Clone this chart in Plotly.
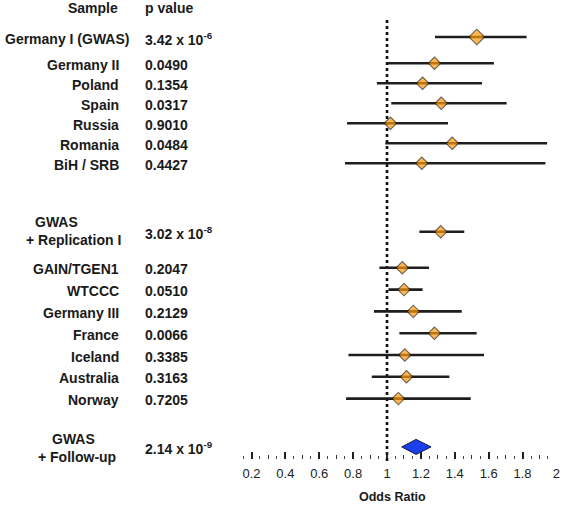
import plotly.graph_objects as go

# ---------------- data ----------------
samples = ["Germany I (GWAS)", "Germany II", "Poland", "Spain", "Russia", "Romania", "BiH / SRB",
           "GWAS|+ Replication I",
           "GAIN/TGEN1", "WTCCC", "Germany III", "France", "Iceland", "Australia", "Norway",
           "GWAS|+ Follow-up"]
p_values = ["3.42 x 10<sup>-6</sup>", "0.0490", "0.1354", "0.0317", "0.9010", "0.0484", "0.4427",
            "3.02 x 10<sup>-8</sup>",
            "0.2047", "0.0510", "0.2129", "0.0066", "0.3385", "0.3163", "0.7205",
            "2.14 x 10<sup>-9</sup>"]
odds_ratio = [1.53, 1.28, 1.21, 1.32, 1.02, 1.385, 1.205,
              1.317,
              1.09, 1.10, 1.155, 1.28, 1.105, 1.115, 1.067,
              1.171]
ci_low = [1.283, 1.00, 0.94, 1.025, 0.764, 0.99, 0.752,
          1.191,
          0.955, 1.008, 0.923, 1.073, 0.772, 0.91, 0.758,
          1.087]
ci_high = [1.824, 1.631, 1.561, 1.706, 1.36, 1.945, 1.935,
           1.456,
           1.248, 1.21, 1.441, 1.529, 1.573, 1.368, 1.494,
           1.26]
group = ["A"] * 7 + ["S1"] + ["B"] * 7 + ["S2"]
major_ticks = [0.2, 0.4, 0.6, 0.8, 1.0, 1.2, 1.4, 1.6, 1.8, 2.0]
major_labels = ["0.2", "0.4", "0.6", "0.8", "1", "1.2", "1.4", "1.6", "1.8", "2"]

# ---------------- layout of rows (pixel-like y units) ----------------
W, H = 562, 505
ys = []
y = 37.0
for i, g in enumerate(group):
    if i > 0:
        prev = group[i - 1]
        if i == 1:
            y += 26.3
        elif g == "A":
            y += 20.0
        elif g == "S1":
            y += 68.5
        elif g == "B" and prev == "S1":
            y += 36.0
        elif g == "B":
            y += 21.8
        elif g == "S2":
            y += 48.3
    ys.append(y)

FONT = "Liberation Sans, Arial, Helvetica, sans-serif"
TXT = "#1a1a1a"

fig = go.Figure()

# CI lines
lx, ly = [], []
for lo, hi, yy, g in zip(ci_low, ci_high, ys, group):
    if g == "S2":
        continue
    lx += [lo, hi, None]
    ly += [yy, yy, None]
fig.add_trace(go.Scatter(x=lx, y=ly, mode="lines", line=dict(color="#1e1e1e", width=2.6),
                         hoverinfo="skip"))

# orange diamonds
idx = [i for i, g in enumerate(group) if g != "S2"]
fig.add_trace(go.Scatter(
    x=[odds_ratio[i] for i in idx], y=[ys[i] for i in idx], mode="markers",
    marker=dict(symbol="diamond", size=[12 if i == 0 else 9.5 for i in idx],
                color="#FF9A0A", line=dict(color="#2a2010", width=1.1)),
    hoverinfo="skip"))

# blue summary diamond (spans CI)
for i, g in enumerate(group):
    if g == "S2":
        h = 7.5
        fig.add_trace(go.Scatter(
            x=[ci_low[i], odds_ratio[i], ci_high[i], odds_ratio[i], ci_low[i]],
            y=[ys[i], ys[i] - h, ys[i], ys[i] + h, ys[i]],
            mode="lines", fill="toself", fillcolor="#1B3FEA",
            line=dict(color="#101840", width=1), hoverinfo="skip"))

# reference line at OR = 1
fig.add_shape(type="line", x0=1, x1=1, y0=20, y1=461, xref="x", yref="y",
              line=dict(color="#111", width=2.6, dash="dot"), layer="below")

# ---------------- text columns ----------------
def ann(text, x, yy, anchor, bold=True, size=14):
    fig.add_annotation(text=f"<b>{text}</b>" if bold else text, x=x / W, y=yy,
                       xref="paper", yref="y", xanchor=anchor, yanchor="middle",
                       showarrow=False, font=dict(family=FONT, size=size, color=TXT))

ann("Sample", 92.5, 8, "center")
ann("p value", 143, 8, "left")

for i, (name, p, yy) in enumerate(zip(samples, p_values, ys)):
    if "|" in name:
        l1, l2 = name.split("|")
        if group[i] == "S1":
            ann(l1, 33, yy - 9.5, "left")
            ann(l2, 123, yy + 8, "right")
        else:
            ann(l1, 50, yy - 7.5, "left")
            ann(l2, 118, yy + 10.5, "right")
    elif i == 0:
        ann(name, 3, yy + 2, "left")
    else:
        ann(name, 120.5, yy + 1.5, "right")
    ann(p, 143, yy + 1.5, "left")

ann("Odds Ratio", 392, 497, "center", size=12.5)

# ---------------- axes ----------------
x0px, x1px = 234.5, 556.5
dom = [x0px / W, x1px / W]
axis_pos = 1 - 459 / H
minor_vals = [round(0.1 + 0.05 * k, 2) for k in range(39)]
minor_vals = [v for v in minor_vals if round(v * 10) / 10 != v]
mid_vals = [round(0.1 + 0.2 * k, 1) for k in range(10)]

fig.update_layout(
    width=W, height=H, margin=dict(l=0, r=0, t=0, b=0, autoexpand=False),
    paper_bgcolor="white", plot_bgcolor="white", showlegend=False,
    xaxis=dict(domain=dom, range=[0.0995, 2.0005], anchor="free", position=axis_pos,
               side="bottom", showline=False, showgrid=False, zeroline=False,
               automargin=False,
               tickmode="array", tickvals=major_ticks, ticktext=major_labels,
               ticks="inside", ticklen=7, tickwidth=1.6, tickcolor="#222",
               ticklabelstandoff=5,
               tickfont=dict(family=FONT, size=13, color="#222"),
               minor=dict(tickmode="array", tickvals=minor_vals, ticks="inside",
                          ticklen=3, tickwidth=1.2, tickcolor="#444")),
    xaxis2=dict(domain=dom, range=[0.0995, 2.0005], anchor="free", position=axis_pos,
                overlaying="x", side="bottom", showline=False, showgrid=False,
                zeroline=False, automargin=False, tickmode="array", tickvals=mid_vals,
                showticklabels=False,
                ticks="inside", ticklen=4.5, tickwidth=1.3, tickcolor="#333"),
    yaxis=dict(range=[H, 0], domain=[0, 1], visible=False, fixedrange=True,
               automargin=False),
)
# invisible trace to activate xaxis2
fig.add_trace(go.Scatter(x=[1], y=[-50], xaxis="x2", mode="markers",
                         marker=dict(opacity=0), hoverinfo="skip"))

fig.write_html("out.html", config={"displayModeBar": False},
               post_script="document.body.style.margin='0';document.body.style.overflow='hidden';")
